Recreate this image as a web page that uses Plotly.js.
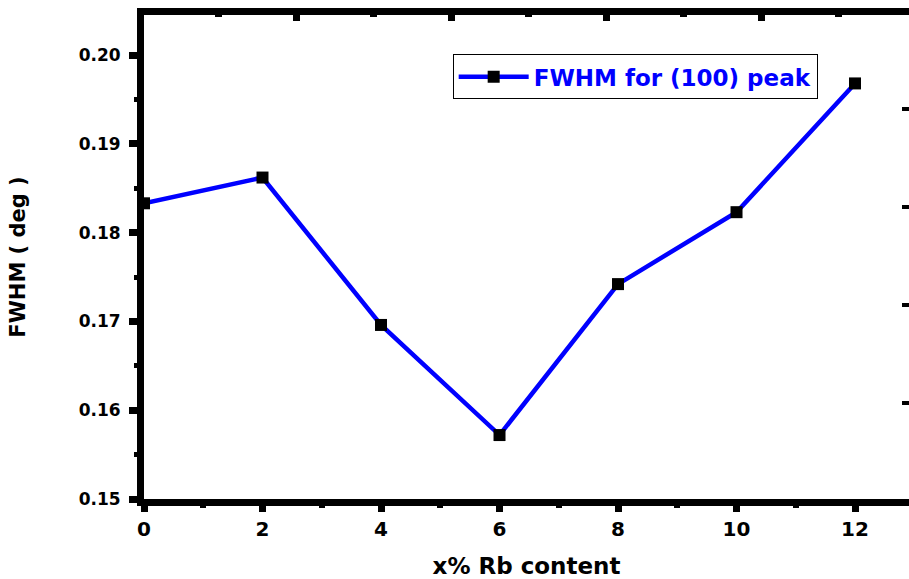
<!DOCTYPE html>
<html>
<head>
<meta charset="utf-8">
<script src="https://cdn.plot.ly/plotly-3.0.1.min.js"></script>
<style>
  html, body { margin: 0; padding: 0; background: #ffffff; overflow: hidden; }
  #chart { width: 909px; height: 579px; }
</style>
</head>
<body>
<div id="chart"></div>
<script>
// Data
const rbContent = [0, 2, 4, 6, 8, 10, 12];            // x% Rb content
const fwhm = [0.1833, 0.1862, 0.1696, 0.1572, 0.1742, 0.1823, 0.1968]; // FWHM (deg)
const seriesName = 'FWHM for (100) peak';
const xTickVals = [0, 2, 4, 6, 8, 10, 12];
const yTickVals = [0.15, 0.16, 0.17, 0.18, 0.19, 0.20];
const yTickText = ['0.15', '0.16', '0.17', '0.18', '0.19', '0.20'];

const F = 'DejaVu Sans, Liberation Sans, Arial, sans-serif';

const traces = [
  {
    x: rbContent,
    y: fwhm,
    name: seriesName,
    type: 'scatter',
    mode: 'lines+markers',
    line: { color: '#0000ff', width: 4.5 },
    marker: { symbol: 'square', size: 12, color: '#000000', line: { width: 0 } },
    xaxis: 'x',
    yaxis: 'y'
  },
  {
    // empty trace anchoring the frame's top/right axes
    x: [], y: [],
    type: 'scatter', mode: 'markers',
    xaxis: 'x2', yaxis: 'y2',
    showlegend: false, hoverinfo: 'skip'
  }
];

const layout = {
  width: 909,
  height: 579,
  margin: { l: 144, r: 0, t: 15, b: 80, pad: 0 },
  paper_bgcolor: '#ffffff',
  plot_bgcolor: '#ffffff',
  showlegend: true,
  font: { family: F, color: '#000000' },
  xaxis: {
    range: [0, 12.911],
    tickmode: 'array',
    tickvals: xTickVals,
    ticktext: xTickVals.map(String),
    ticks: 'outside',
    ticklen: 6,
    tickwidth: 7,
    tickcolor: '#000000',
    minor: { dtick: 1, tick0: 1, ticks: 'outside', ticklen: 2, tickwidth: 6, tickcolor: '#000000', showgrid: false },
    showline: true,
    linewidth: 7,
    linecolor: '#000000',
    showgrid: false,
    zeroline: false,
    ticklabelstandoff: 0,
    tickfont: { family: F, size: 20, weight: 'bold', color: '#000000' },
    title: { text: 'x% Rb content', font: { family: F, size: 23, weight: 'bold', color: '#000000' }, standoff: 20 },
    automargin: false
  },
  yaxis: {
    range: [0.15, 0.204505],
    tickmode: 'array',
    tickvals: yTickVals,
    ticktext: yTickText,
    ticks: 'outside',
    ticklen: 8,
    tickwidth: 7,
    tickcolor: '#000000',
    minor: { dtick: 0.005, tick0: 0.145, ticks: 'outside', ticklen: 3, tickwidth: 5, tickcolor: '#000000', showgrid: false },
    showline: true,
    linewidth: 7,
    linecolor: '#000000',
    showgrid: false,
    zeroline: false,
    ticklabelstandoff: 5,
    tickfont: { family: F, size: 17, weight: 'bold', color: '#000000' },
    title: { text: 'FWHM ( deg )', font: { family: F, size: 21, weight: 'bold', color: '#000000' }, standoff: 50 },
    automargin: false
  },
  xaxis2: {
    overlaying: 'x',
    side: 'top',
    anchor: 'y',
    range: [-0.9806, 3.9548],
    dtick: 1,
    tick0: 0,
    ticks: 'inside',
    ticklen: 6,
    tickwidth: 7,
    tickcolor: '#000000',
    minor: { dtick: 0.5, tick0: 0.5, ticks: 'inside', ticklen: 2, tickwidth: 7, tickcolor: '#000000', showgrid: false },
    showline: true,
    linewidth: 7,
    linecolor: '#000000',
    showticklabels: false,
    showgrid: false,
    zeroline: false,
    automargin: false
  },
  yaxis2: {
    overlaying: 'y',
    side: 'right',
    anchor: 'x',
    range: [0.0153, 4.964],
    dtick: 1,
    tick0: 0,
    ticks: 'inside',
    ticklen: 7,
    tickwidth: 4,
    tickcolor: '#000000',
    showline: true,
    linewidth: 7,
    linecolor: '#000000',
    showticklabels: false,
    showgrid: false,
    zeroline: false,
    automargin: false
  },
  legend: {
    x: 0.4035,
    y: 0.919,
    xanchor: 'left',
    yanchor: 'top',
    bgcolor: '#ffffff',
    bordercolor: '#000000',
    borderwidth: 1,
    itemwidth: 70,
    font: { family: F, size: 23, weight: 'bold', color: '#0000ff' }
  }
};

Plotly.newPlot('chart', traces, layout, { displayModeBar: false, staticPlot: true });
</script>
</body>
</html>
